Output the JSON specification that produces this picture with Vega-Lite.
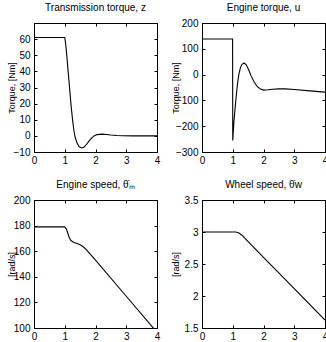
{
  "$schema": "https://vega.github.io/schema/vega-lite/v6.json",
  "padding": {"left": 6, "top": 2, "right": 0, "bottom": 0},
  "bounds": "flush",
  "columns": 2,
  "spacing": {"row": 48, "column": 45},
  "datasets": {
    "p1": [
      {"t": 0, "v": 61}, {"t": 1.0, "v": 61}, {"t": 1.03, "v": 57}, {"t": 1.07, "v": 49},
      {"t": 1.11, "v": 40}, {"t": 1.16, "v": 29}, {"t": 1.21, "v": 18}, {"t": 1.26, "v": 9},
      {"t": 1.3, "v": 3}, {"t": 1.34, "v": -1}, {"t": 1.4, "v": -4.5}, {"t": 1.47, "v": -6.8},
      {"t": 1.55, "v": -7.5}, {"t": 1.62, "v": -7}, {"t": 1.7, "v": -5.5}, {"t": 1.8, "v": -3},
      {"t": 1.88, "v": -1.2}, {"t": 1.95, "v": 0}, {"t": 2.05, "v": 0.8}, {"t": 2.2, "v": 1.1},
      {"t": 2.35, "v": 0.9}, {"t": 2.5, "v": 0.5}, {"t": 2.7, "v": 0.2}, {"t": 2.9, "v": 0.05},
      {"t": 3.2, "v": 0}, {"t": 4, "v": 0}
    ],
    "p2": [
      {"t": 0, "v": 138}, {"t": 0.995, "v": 138}, {"t": 1.0, "v": -255}, {"t": 1.04, "v": -180},
      {"t": 1.08, "v": -125}, {"t": 1.12, "v": -75}, {"t": 1.16, "v": -30}, {"t": 1.2, "v": 2},
      {"t": 1.25, "v": 27}, {"t": 1.3, "v": 40}, {"t": 1.37, "v": 45}, {"t": 1.44, "v": 38},
      {"t": 1.52, "v": 18}, {"t": 1.6, "v": -6}, {"t": 1.7, "v": -30}, {"t": 1.8, "v": -47},
      {"t": 1.9, "v": -56}, {"t": 2.0, "v": -60}, {"t": 2.15, "v": -59}, {"t": 2.3, "v": -57},
      {"t": 2.5, "v": -55.5}, {"t": 2.7, "v": -55.5}, {"t": 3.0, "v": -58}, {"t": 3.5, "v": -63},
      {"t": 4.0, "v": -68}
    ],
    "p3": [
      {"t": 0, "v": 179}, {"t": 1.0, "v": 179}, {"t": 1.05, "v": 177.5}, {"t": 1.1, "v": 174},
      {"t": 1.15, "v": 170.5}, {"t": 1.2, "v": 168.3}, {"t": 1.3, "v": 166.8}, {"t": 1.4, "v": 166},
      {"t": 1.5, "v": 165}, {"t": 1.6, "v": 163.5}, {"t": 1.7, "v": 161.3}, {"t": 1.8, "v": 158.5},
      {"t": 1.9, "v": 155.7}, {"t": 2.0, "v": 153}, {"t": 3.0, "v": 124.8}, {"t": 4.0, "v": 96.6}
    ],
    "p4": [
      {"t": 0, "v": 3.0}, {"t": 1.1, "v": 3.0}, {"t": 1.2, "v": 2.985}, {"t": 1.3, "v": 2.95},
      {"t": 1.4, "v": 2.9}, {"t": 1.5, "v": 2.85}, {"t": 2.0, "v": 2.605}, {"t": 3.0, "v": 2.115},
      {"t": 4.0, "v": 1.625}
    ]
  },
  "concat": [
    {
      "width": 123, "height": 129,
      "data": {"name": "p1"},
      "title": "Transmission torque, z",
      "layer": [
        {"mark": {"type": "line", "color": "black", "strokeWidth": 1.1, "clip": true},
         "encoding": {
           "x": {"field": "t", "type": "quantitative", "scale": {"domain": [0, 4], "nice": false, "zero": false}, "axis": {"orient": "bottom", "values": [0, 1, 2, 3, 4], "title": null}},
           "y": {"field": "v", "type": "quantitative", "scale": {"domain": [-10, 70], "nice": false, "zero": false}, "axis": {"orient": "left", "values": [-10, 0, 10, 20, 30, 40, 50, 60, 70], "labelExpr": "datum.value == 70 ? '' : datum.label", "title": "Torque, [Nm]", "titleX": -23}}
         }},
        {"mark": {"type": "line", "strokeOpacity": 0},
         "encoding": {
           "x": {"field": "t", "type": "quantitative", "axis": {"orient": "top", "values": [0, 1, 2, 3, 4], "labels": false, "title": null, "domain": false}},
           "y": {"field": "v", "type": "quantitative", "axis": {"orient": "right", "values": [-10, 0, 10, 20, 30, 40, 50, 60, 70], "labels": false, "title": null, "domain": false}}
         }}
      ],
      "resolve": {"axis": {"x": "independent", "y": "independent"}}
    },
    {
      "width": 123, "height": 129,
      "data": {"name": "p2"},
      "title": "Engine torque, u",
      "layer": [
        {"mark": {"type": "line", "color": "black", "strokeWidth": 1.1, "clip": true},
         "encoding": {
           "x": {"field": "t", "type": "quantitative", "scale": {"domain": [0, 4], "nice": false, "zero": false}, "axis": {"orient": "bottom", "values": [0, 1, 2, 3, 4], "title": null}},
           "y": {"field": "v", "type": "quantitative", "scale": {"domain": [-300, 200], "nice": false, "zero": false}, "axis": {"orient": "left", "values": [-300, -200, -100, 0, 100, 200], "title": "Torque, [Nm]", "titleX": -27}}
         }},
        {"mark": {"type": "line", "strokeOpacity": 0},
         "encoding": {
           "x": {"field": "t", "type": "quantitative", "axis": {"orient": "top", "values": [0, 1, 2, 3, 4], "labels": false, "title": null, "domain": false}},
           "y": {"field": "v", "type": "quantitative", "axis": {"orient": "right", "values": [-300, -200, -100, 0, 100, 200], "labels": false, "title": null, "domain": false}}
         }}
      ],
      "resolve": {"axis": {"x": "independent", "y": "independent"}}
    },
    {
      "width": 123, "height": 128,
      "data": {"name": "p3"},
      "title": "Engine speed, θ̇ₘ",
      "layer": [
        {"mark": {"type": "line", "color": "black", "strokeWidth": 1.1, "clip": true},
         "encoding": {
           "x": {"field": "t", "type": "quantitative", "scale": {"domain": [0, 4], "nice": false, "zero": false}, "axis": {"orient": "bottom", "values": [0, 1, 2, 3, 4], "title": null}},
           "y": {"field": "v", "type": "quantitative", "scale": {"domain": [100, 200], "nice": false, "zero": false}, "axis": {"orient": "left", "values": [100, 120, 140, 160, 180, 200], "title": "[rad/s]", "titleX": -23}}
         }},
        {"mark": {"type": "line", "strokeOpacity": 0},
         "encoding": {
           "x": {"field": "t", "type": "quantitative", "axis": {"orient": "top", "values": [0, 1, 2, 3, 4], "labels": false, "title": null, "domain": false}},
           "y": {"field": "v", "type": "quantitative", "axis": {"orient": "right", "values": [100, 120, 140, 160, 180, 200], "labels": false, "title": null, "domain": false}}
         }}
      ],
      "resolve": {"axis": {"x": "independent", "y": "independent"}}
    },
    {
      "width": 123, "height": 128,
      "data": {"name": "p4"},
      "title": "Wheel speed, θ̇w",
      "layer": [
        {"mark": {"type": "line", "color": "black", "strokeWidth": 1.1, "clip": true},
         "encoding": {
           "x": {"field": "t", "type": "quantitative", "scale": {"domain": [0, 4], "nice": false, "zero": false}, "axis": {"orient": "bottom", "values": [0, 1, 2, 3, 4], "title": null}},
           "y": {"field": "v", "type": "quantitative", "scale": {"domain": [1.5, 3.5], "nice": false, "zero": false}, "axis": {"orient": "left", "values": [1.5, 2, 2.5, 3, 3.5], "format": "~g", "title": "[rad/s]", "titleX": -27}}
         }},
        {"mark": {"type": "line", "strokeOpacity": 0},
         "encoding": {
           "x": {"field": "t", "type": "quantitative", "axis": {"orient": "top", "values": [0, 1, 2, 3, 4], "labels": false, "title": null, "domain": false}},
           "y": {"field": "v", "type": "quantitative", "axis": {"orient": "right", "values": [1.5, 2, 2.5, 3, 3.5], "labels": false, "title": null, "domain": false}}
         }}
      ],
      "resolve": {"axis": {"x": "independent", "y": "independent"}}
    }
  ],
  "config": {
    "font": "Liberation Sans",
    "view": {"stroke": "black", "strokeWidth": 1},
    "axis": {
      "grid": false,
      "domainColor": "black",
      "domainWidth": 1,
      "tickColor": "black",
      "tickSize": -3,
      "labelFontSize": 10,
      "labelColor": "black",
      "labelFlush": false,
      "labelOverlap": false,
      "titleFontSize": 9,
      "titleFontWeight": "normal",
      "titleColor": "black",
      "titleBaseline": "middle"
    },
    "axisX": {"labelPadding": 6},
    "axisY": {"labelPadding": 7},
    "title": {"fontSize": 10, "fontWeight": "normal", "color": "black", "offset": 5}
  }
}
